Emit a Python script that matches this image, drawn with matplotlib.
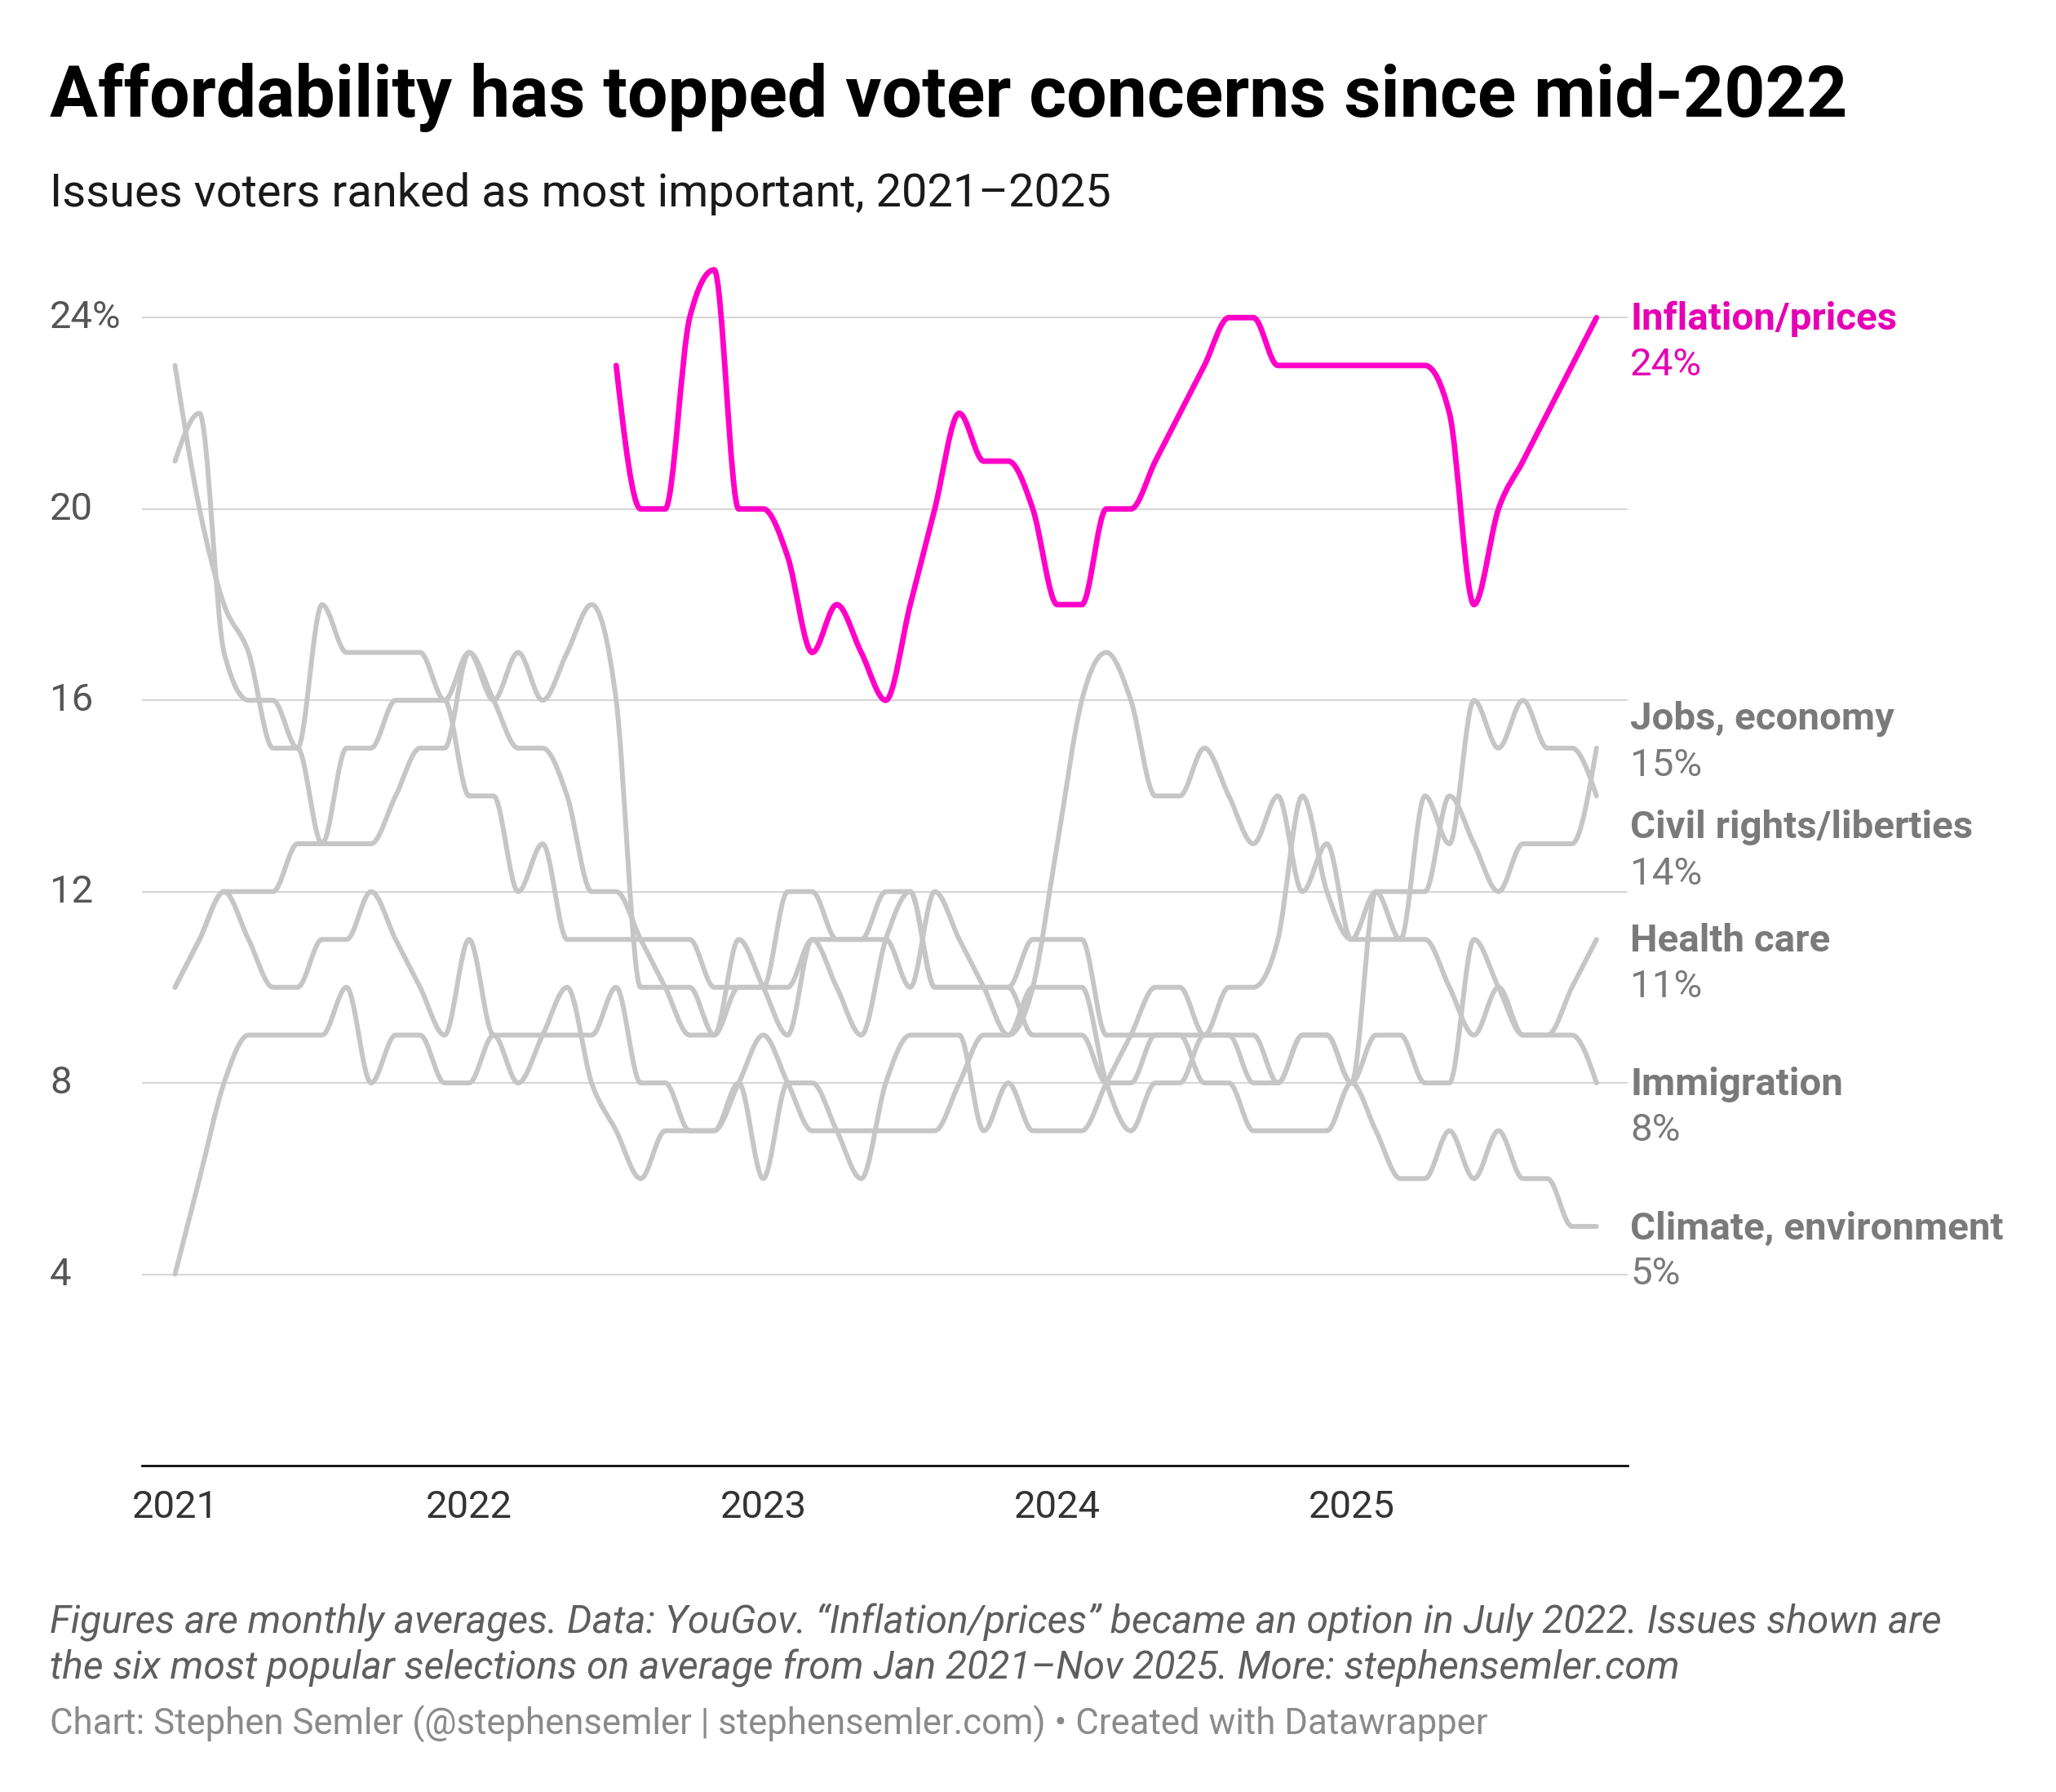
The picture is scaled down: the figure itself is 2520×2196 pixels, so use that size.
import numpy as np
import pandas as pd
import matplotlib
matplotlib.use('Agg')
import matplotlib.pyplot as plt
import matplotlib.transforms as mtransforms
from matplotlib.path import Path
from matplotlib.patches import PathPatch

plt.rcParams['font.family'] = ['Roboto', 'DejaVu Sans']

# ---------------------------------------------------------------
# Data: monthly share of voters naming each issue (%), Jan 2021 - Nov 2025
# ---------------------------------------------------------------
months = pd.date_range('2021-01-01', '2025-11-01', freq='MS')

jobs_economy = [10, 11, 12, 12, 12, 13, 13, 13, 13, 14, 15, 15, 17,
                16, 15, 15, 14, 12, 12, 11, 10, 9, 9, 10,
                10, 10, 11, 11, 11, 11, 10, 12, 11, 10, 9, 10,
                13, 16, 17, 16, 14, 14, 15, 14, 13, 14, 12, 13,
                11, 12, 12, 12, 14, 13, 12, 13, 13, 13, 15]
civil_rights = [4, 6, 8, 9, 9, 9, 9, 10, 8, 9, 9, 8, 8,
                9, 8, 9, 10, 8, 7, 6, 7, 7, 7, 8,
                6, 8, 8, 7, 6, 8, 9, 9, 9, 7, 8, 7,
                7, 7, 8, 9, 10, 10, 9, 10, 10, 11, 14, 12,
                11, 11, 11, 14, 13, 16, 15, 16, 15, 15, 14]
health_care = [10, 11, 12, 11, 10, 10, 11, 11, 12, 11, 10, 9, 11,
               9, 9, 9, 9, 9, 10, 8, 8, 7, 7, 8,
               9, 8, 7, 7, 7, 7, 7, 7, 8, 9, 9, 10,
               10, 10, 8, 7, 8, 8, 9, 9, 8, 8, 9, 9,
               8, 12, 11, 11, 10, 9, 10, 9, 9, 10, 11]
immigration = [21, 22, 17, 16, 16, 15, 18, 17, 17, 17, 17, 16, 17,
               16, 17, 16, 17, 18, 16, 10, 10, 10, 9, 11,
               10, 9, 11, 10, 9, 11, 12, 10, 10, 10, 10, 9,
               9, 9, 8, 8, 9, 9, 9, 9, 9, 8, 9, 9,
               8, 9, 9, 8, 8, 11, 10, 9, 9, 9, 8]
climate = [23, 20, 18, 17, 15, 15, 13, 15, 15, 16, 16, 16, 14,
           14, 12, 13, 11, 11, 11, 11, 11, 11, 10, 10,
           10, 12, 12, 11, 11, 12, 12, 10, 10, 10, 10, 11,
           11, 11, 9, 9, 9, 9, 8, 8, 7, 7, 7, 7,
           8, 7, 6, 6, 7, 6, 7, 6, 6, 5, 5]

# Inflation/prices only became an option in July 2022
inflation_start = '2022-07-01'
inflation = [23, 20, 20, 24, 25, 20,
             20, 19, 17, 18, 17, 16, 18, 20, 22, 21, 21, 20,
             18, 18, 20, 20, 21, 22, 23, 24, 24, 23, 23, 23,
             23, 23, 23, 23, 22, 18, 20, 21, 22, 23, 24]

grey_series = {
    'Jobs, economy': jobs_economy,
    'Civil rights/liberties': civil_rights,
    'Health care': health_care,
    'Immigration': immigration,
    'Climate, environment': climate,
}

y_ticks = [4, 8, 12, 16, 20, 24]
x_ticks = [2021, 2022, 2023, 2024, 2025]

PINK = '#ff00c8'
PINK_TEXT = '#e600b4'
GREY_LINE = '#c6c6c6'
GREY_TEXT = '#7a7a7a'


def monotone_path(xs, ys):
    """Cubic bezier path with monotone-x tangents (same as d3.curveMonotoneX)."""
    xs = np.asarray(xs, float)
    ys = np.asarray(ys, float)
    h = np.diff(xs)
    s = np.diff(ys) / h
    t = np.zeros(len(xs))
    for i in range(1, len(xs) - 1):
        s0, s1 = s[i - 1], s[i]
        p = (s0 * h[i] + s1 * h[i - 1]) / (h[i - 1] + h[i])
        sg = (1 if s0 >= 0 else -1) + (1 if s1 >= 0 else -1)
        t[i] = sg * min(abs(s0), abs(s1), 0.5 * abs(p))
    t[0] = (3 * s[0] - t[1]) / 2
    t[-1] = (3 * s[-1] - t[-2]) / 2
    verts = [(xs[0], ys[0])]
    codes = [Path.MOVETO]
    for i in range(len(xs) - 1):
        dx = h[i] / 3
        verts += [(xs[i] + dx, ys[i] + dx * t[i]),
                  (xs[i + 1] - dx, ys[i + 1] - dx * t[i + 1]),
                  (xs[i + 1], ys[i + 1])]
        codes += [Path.CURVE4] * 3
    return Path(verts, codes)


x = np.asarray(months.year + (months.month - 1) / 12, float)
x_infl = x[months >= pd.Timestamp(inflation_start)]

W, H = 2520, 2196
fig = plt.figure(figsize=(W / 100, H / 100), dpi=100)
ax = fig.add_axes([174 / W, 400 / H, (1995 - 174) / W, (1796 - 272) / H])
ax.set_xlim(2021 + (174 - 214.5) / 30.04 / 12, 2021 + (1995 - 214.5) / 30.04 / 12)
ax.set_ylim(0, 26)
ax.axis('off')

for v in y_ticks:
    ax.axhline(v, color='#d6d6d6', lw=1.5, zorder=0)
ax.axhline(0, color='#000000', lw=1.9, zorder=1, clip_on=False)

for name, vals in grey_series.items():
    ax.add_patch(PathPatch(monotone_path(x, vals), fill=False, edgecolor=GREY_LINE,
                           lw=4.3, capstyle='round', joinstyle='round', zorder=2))
ax.add_patch(PathPatch(monotone_path(x_infl, inflation), fill=False, edgecolor=PINK,
                       lw=4.9, capstyle='round', joinstyle='round', zorder=3))

# axis labels
ylab_tr = mtransforms.blended_transform_factory(fig.transFigure, ax.transData)
for v in y_ticks:
    lbl = f'{v}%' if v == y_ticks[-1] else str(v)
    ax.text(61 / W, v, lbl, transform=ylab_tr, ha='left', va='center',
            fontsize=34, color='#555555')
xlab_tr = mtransforms.blended_transform_factory(ax.transData, fig.transFigure)
for yr in x_ticks:
    ax.text(yr, 1 - 1847 / H, str(yr), transform=xlab_tr, ha='center', va='center',
            fontsize=34, color='#333333')

# end-of-line labels, spread apart where they would collide
names = ['Inflation/prices'] + list(grey_series.keys())
ends = [inflation[-1]] + [vals[-1] for vals in grey_series.values()]
order = np.argsort(ends)[::-1]
pos = np.array(ends, float)[order]
gap = 2.27
for _ in range(100):
    for i in range(len(pos) - 1):
        d = pos[i] - pos[i + 1]
        if d < gap:
            pos[i] += (gap - d) / 2
            pos[i + 1] -= (gap - d) / 2
for k, idx in enumerate(order):
    col = PINK_TEXT if names[idx] == 'Inflation/prices' else GREY_TEXT
    ax.text(1998 / W, pos[k] - 0.03, names[idx], transform=ylab_tr, ha='left', va='center',
            fontsize=34.2, fontweight='bold', color=col)
    ax.text(1998 / W, pos[k] - 0.99, f'{ends[idx]}%', transform=ylab_tr, ha='left',
            va='center', fontsize=34.2, color=col)

# titles and notes
fig.text(61 / W, 1 - 143 / H, 'Affordability has topped voter concerns since mid-2022',
         fontsize=63.2, fontweight='bold', color='#000000', va='baseline')
fig.text(61 / W, 1 - 253 / H, 'Issues voters ranked as most important, 2021\u20132025',
         fontsize=40.3, color='#1a1a1a', va='baseline')
fig.text(61 / W, 1 - 2001 / H,
         'Figures are monthly averages. Data: YouGov. \u201cInflation/prices\u201d became an option in July 2022. Issues shown are',
         fontsize=34.6, style='italic', color='#5e5e5e', va='baseline')
fig.text(61 / W, 1 - 2058 / H,
         'the six most popular selections on average from Jan 2021\u2013Nov 2025. More: stephensemler.com',
         fontsize=34.6, style='italic', color='#5e5e5e', va='baseline')
fig.text(61 / W, 1 - 2126 / H,
         'Chart: Stephen Semler (@stephensemler | stephensemler.com) \u2022 Created with Datawrapper',
         fontsize=31.5, color='#8a8a8a', va='baseline')

fig.savefig('out.png', dpi=100, facecolor='white')
